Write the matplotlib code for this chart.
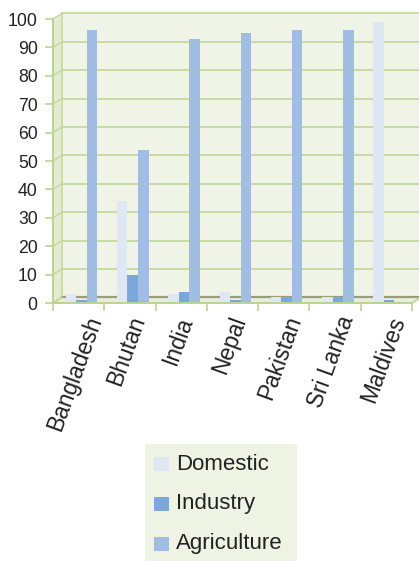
import matplotlib
matplotlib.use("Agg")
import matplotlib.pyplot as plt
from matplotlib.patches import Polygon, Rectangle
import numpy as np

categories = ["Bangladesh", "Bhutan", "India", "Nepal", "Pakistan", "Sri Lanka", "Maldives"]
domestic = [3, 36, 3, 4, 2, 2, 99]
industry = [1, 10, 4, 1, 2, 2, 1]
agriculture = [96, 54, 93, 95, 96, 96, 0.5]
series_names = ["Domestic", "Industry", "Agriculture"]
y_ticks = [0, 10, 20, 30, 40, 50, 60, 70, 80, 90, 100]

colors = ["#dfe7f5", "#7ba7da", "#a1bde2"]
green = "#bcd48f"
grid_c = "#c6d99e"
wall_c = "#eff4e6"
side_c = "#e3ecd3"
floor_c = "#e6eed9"

plt.rcParams['font.family'] = ['Liberation Sans', 'DejaVu Sans']

W, H = 419, 561
fig = plt.figure(figsize=(W / 100, H / 100), dpi=100)
x0, x1, yb, yt = 53, 412, 303, 19
ax = fig.add_axes([x0 / W, 1 - yb / H, (x1 - x0) / W, (yb - yt) / H])
ax.set_facecolor("none")
n = len(categories)
ax.set_xlim(0, n)
ax.set_ylim(0, 100)

dx = 9 / ((x1 - x0) / n)
dy = 2.0

# walls
ax.add_patch(Polygon([[dx, dy], [n + dx, dy], [n + dx, 100 + dy], [dx, 100 + dy]],
                     closed=True, facecolor=wall_c, edgecolor="none", clip_on=False, zorder=0))
ax.add_patch(Polygon([[0, 0], [dx, dy], [dx, 100 + dy], [0, 100]],
                     closed=True, facecolor=side_c, edgecolor="none", clip_on=False, zorder=0))
ax.add_patch(Polygon([[0, 0], [n, 0], [n + dx, dy], [dx, dy]],
                     closed=True, facecolor=floor_c, edgecolor="none", clip_on=False, zorder=0))

for v in y_ticks[1:]:
    ax.plot([dx, n + dx], [v + dy, v + dy], color=grid_c, lw=1.3, clip_on=False, zorder=1)
    ax.plot([0, dx], [v, v + dy], color=grid_c, lw=1.1, clip_on=False, zorder=1)
ax.plot([dx, dx], [dy, 100 + dy], color=grid_c, lw=1.2, clip_on=False, zorder=1)
ax.plot([dx, n + dx], [dy, dy], color="#9c9d76", lw=1.6, clip_on=False, zorder=1)
ax.plot([0, dx], [0, dy], color=green, lw=1.2, clip_on=False, zorder=1)
ax.plot([n, n + dx], [0, dy], color=green, lw=1.2, clip_on=False, zorder=1)

# bars
bw = 0.205
centers = np.arange(n) + 0.555
for k, (vals, c) in enumerate(zip([domestic, industry, agriculture], colors)):
    ax.bar(centers + (k - 1) * bw, vals, width=bw, color=c, edgecolor="none", zorder=3)

# spines / ticks
for s in ["top", "right"]:
    ax.spines[s].set_visible(False)
for s in ["left", "bottom"]:
    ax.spines[s].set_color(green)
    ax.spines[s].set_linewidth(1.4)
    ax.spines[s].set_zorder(4)
ax.set_yticks(y_ticks)
ax.tick_params(axis="y", length=6, color=green, width=1.2, labelsize=12.7,
               labelcolor="#222222", pad=5)
ax.set_xticks(range(n + 1))
ax.set_xticklabels([])
ax.tick_params(axis="x", length=6, color=green, width=1.2)

for i, lab in enumerate(categories):
    ax.text(i + 0.5 - 0.065, -10 / (yb - yt), lab, transform=ax.get_xaxis_transform(),
            rotation=70, ha="center", va="top", fontsize=16.4, color="#222222")

# legend
lx0, lx1, ly0 = 145, 297, 444
lax = fig.add_axes([lx0 / W, 0, (lx1 - lx0) / W, (H - ly0) / H])
lax.set_xlim(0, lx1 - lx0)
lax.set_ylim(H - ly0, 0)
lax.set_facecolor("#eef3e3")
for s in lax.spines.values():
    s.set_visible(False)
lax.set_xticks([])
lax.set_yticks([])
for k, (name, c) in enumerate(zip(series_names, colors)):
    yc = 20 + 40 * k
    lax.add_patch(Rectangle((9, yc - 7), 15, 14, facecolor=c, edgecolor="none"))
    lax.text(31, yc, name, va="center", ha="left", fontsize=16, color="#222222")

fig.savefig("out.png", dpi=100)
